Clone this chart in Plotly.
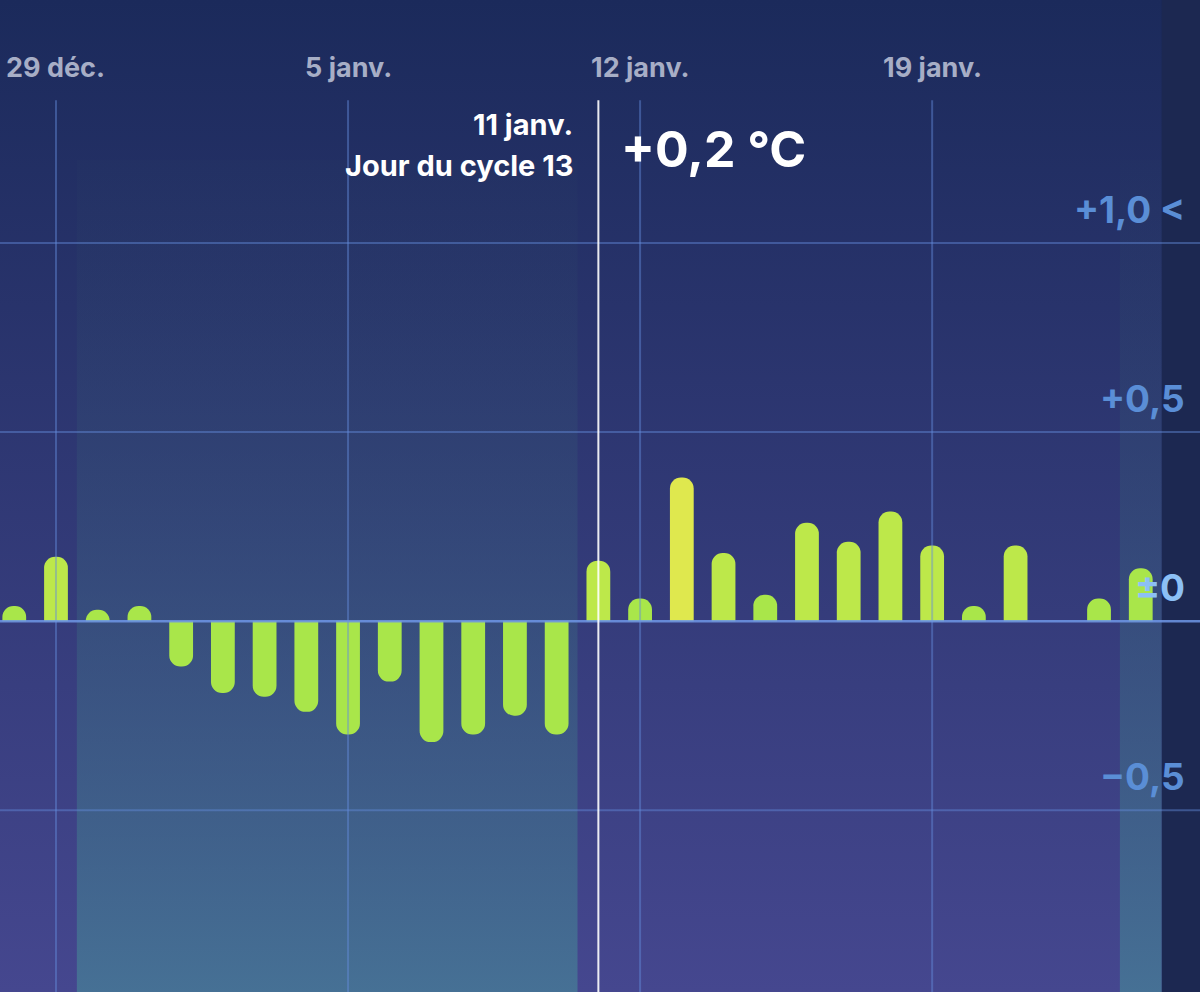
import plotly.graph_objects as go

# days from 28 déc. (index -1) to 24 janv. (index 26); index 0 = 29 déc.
day_index = list(range(-1, 27))
deviation = [0.04, 0.17, 0.03, 0.04, -0.12, -0.19, -0.20, -0.24, -0.30, -0.16,
             -0.32, -0.30, -0.25, -0.30, 0.16, 0.06, 0.38, 0.18, 0.07, 0.26,
             0.21, 0.29, 0.20, 0.04, 0.20, None, 0.06, 0.14]

tick_days = [0, 7, 14, 21]
tick_text = ['29 déc.', '5 janv.', '12 janv.', '19 janv.']
y_ticks = [1.0, 0.5, 0.0, -0.5]
y_text = ['+1,0 <', '+0,5', '±0', '−0,5']

# shaded phases (start, end in day index)
phases = [(0.5, 12.5), (25.5, 26.5)]
selected_day = 13
selected_label = '11 janv.'
cycle_label = 'Jour du cycle 13'
selected_value = '+0,2 °C'

X0, X1 = -1.342, 27.42
Y0, Y1 = -0.981, 1.643

fig = go.Figure()

# background gradient
fig.add_trace(go.Scatter(x=[X0, X1, X1, X0, X0], y=[Y0, Y0, Y1, Y1, Y0],
                         fill='toself', mode='lines', line_width=0,
                         fillgradient=dict(type='vertical',
                                           colorscale=[[0, '#45478f'], [1, '#1b2a5b']]),
                         hoverinfo='skip', showlegend=False))
fig.add_trace(go.Scatter(x=[26.5, X1, X1, 26.5, 26.5], y=[Y0, Y0, Y1, Y1, Y0],
                         fill='toself', mode='lines', line_width=0, fillcolor='#1c2851',
                         hoverinfo='skip', showlegend=False))
for a, b in phases:
    fig.add_trace(go.Scatter(x=[a, b, b, a, a], y=[Y0, Y0, 1.22, 1.22, Y0],
                             fill='toself', mode='lines', line_width=0,
                             fillgradient=dict(type='vertical',
                                               colorscale=[[0, 'rgba(70,120,150,0.85)'],
                                                           [1, 'rgba(40,60,100,0.15)']]),
                             hoverinfo='skip', showlegend=False))

# grid
for t in tick_days:
    fig.add_shape(type='line', x0=t, x1=t, y0=Y0, y1=1.378,
                  line=dict(color='rgba(100,140,220,0.45)', width=2))
for v in y_ticks:
    fig.add_shape(type='line', x0=X0, x1=X1, y0=v, y1=v,
                  line=dict(color='rgba(110,150,230,0.85)' if v == 0 else 'rgba(100,140,220,0.45)',
                            width=2.5 if v == 0 else 2))

# bars on an overlaying axis pair so they sit above the gradient fills
bar_colors = ['#dfe84e' if (v or 0) > 0.3 else '#bde84a' if (v or 0) > 0.15 else '#a9e64a'
              for v in deviation]
fig.add_trace(go.Bar(x=day_index, y=deviation, width=0.57, marker_color=bar_colors,
                     marker_line_width=0, showlegend=False, xaxis='x2', yaxis='y2'))

fig.add_shape(type='line', x0=selected_day, x1=selected_day, y0=Y0, y1=1.378,
              xref='x2', yref='y2', line=dict(color='rgba(255,255,255,0.9)', width=2))

for t, s in zip(tick_days, tick_text):
    fig.add_annotation(x=t, y=1.465, text=f'<b>{s}</b>', showarrow=False,
                       font=dict(size=27, color='#a7aec6', family='Inter'))
for v, s in zip(y_ticks, y_text):
    fig.add_annotation(x=X1 - 0.3, y=v, text=f'<b>{s}</b>', showarrow=False, xanchor='right',
                       yanchor='bottom', yshift=9, xref='x2', yref='y2',
                       font=dict(size=37, color='#5a8ed6' if v != 0 else '#8cc0f5', family='Inter'))

fig.add_annotation(x=selected_day - 0.55, y=1.315, text=f'<b>{selected_label}</b>', showarrow=False,
                   xanchor='right', font=dict(size=29, color='white', family='Inter'))
fig.add_annotation(x=selected_day - 0.55, y=1.204, text=f'<b>{cycle_label}</b>', showarrow=False,
                   xanchor='right', font=dict(size=29, color='white', family='Inter'))
fig.add_annotation(x=selected_day + 0.5, y=1.25, text=f'<b>{selected_value}</b>', showarrow=False,
                   xanchor='left', font=dict(size=50, color='white', family='Inter'))

axis_x = dict(range=[X0, X1], visible=False, fixedrange=True)
axis_y = dict(range=[Y0, Y1], visible=False, fixedrange=True)
fig.update_layout(width=1200, height=992, margin=dict(l=0, r=0, t=0, b=0),
                  paper_bgcolor='#1b2a5b', plot_bgcolor='rgba(0,0,0,0)', barcornerradius=12,
                  xaxis=axis_x, yaxis=axis_y,
                  xaxis2=dict(axis_x, overlaying='x'), yaxis2=dict(axis_y, overlaying='y'))

fig.write_html('out.html', config={'displayModeBar': False},
               post_script="document.body.style.margin='0';")
